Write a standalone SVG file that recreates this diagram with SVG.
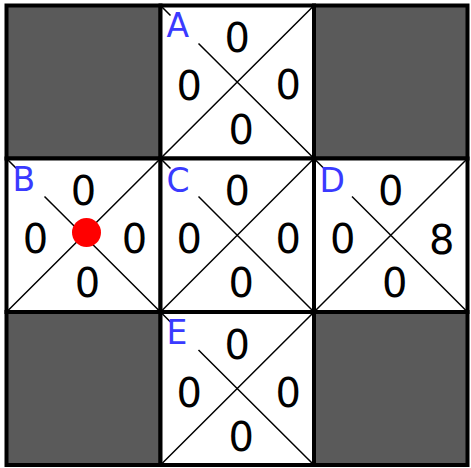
<svg xmlns="http://www.w3.org/2000/svg" width="471" height="468" viewBox="0 0 471 468">
<style>
.grey{fill:#5a5a5a;stroke:#000;stroke-width:4}
.white{fill:#fff;stroke:none}
.frame{fill:none;stroke:#000;stroke-width:4}
.diag{stroke:#000;stroke-width:1.5;fill:none}
.num{font-family:"DejaVu Sans",sans-serif;font-size:40px;fill:#000;text-anchor:middle}
.lab{font-family:"DejaVu Sans",sans-serif;font-size:33px;fill:#3a3aff}
</style>
<rect x="0" y="0" width="471" height="468" fill="#fff"/>
<g id="grey-cells">
<rect class="grey" x="6.5" y="5.5" width="154" height="153"/>
<rect class="grey" x="314" y="5.5" width="153.5" height="153"/>
<rect class="grey" x="6.5" y="312" width="154" height="153"/>
<rect class="grey" x="314" y="312" width="153.5" height="153"/>
</g>
<g id="A">
<rect class="white" x="160.5" y="5.5" width="153.5" height="153"/>
<path class="diag" d="M160.5,5.5L170.5,15.5M198.5,43.5L314,158.5M160.5,158.5L314,5.5"/>
<text class="lab" x="166.5" y="36.5">A</text>
<text class="num" x="237.25" y="52">0</text>
<text class="num" x="189.25" y="100">0</text>
<text class="num" x="288.25" y="99">0</text>
<text class="num" x="241.25" y="144">0</text>
<rect class="frame" x="160.5" y="5.5" width="153.5" height="153"/>
</g>
<g id="B">
<rect class="white" x="6.5" y="158.5" width="154" height="153.5"/>
<path class="diag" d="M6.5,158.5L16.5,168.5M44.5,196.5L160.5,312M6.5,312L160.5,158.5"/>
<text class="lab" x="12.5" y="191">B</text>
<text class="num" x="83.5" y="205.25">0</text>
<text class="num" x="35.5" y="253.25">0</text>
<text class="num" x="134.5" y="253.25">0</text>
<text class="num" x="87.5" y="297.25">0</text>
<circle cx="86.5" cy="232.5" r="14.5" fill="#ff0000"/>
<rect class="frame" x="6.5" y="158.5" width="154" height="153.5"/>
</g>
<g id="C">
<rect class="white" x="160.5" y="158.5" width="153.5" height="153.5"/>
<path class="diag" d="M160.5,158.5L170.5,168.5M198.5,196.5L314,312M160.5,312L314,158.5"/>
<text class="lab" x="166.5" y="191.5">C</text>
<text class="num" x="237.25" y="205.25">0</text>
<text class="num" x="189.25" y="253.25">0</text>
<text class="num" x="288.25" y="253.25">0</text>
<text class="num" x="241.25" y="297.25">0</text>
<rect class="frame" x="160.5" y="158.5" width="153.5" height="153.5"/>
</g>
<g id="D">
<rect class="white" x="314" y="158.5" width="153.5" height="153.5"/>
<path class="diag" d="M314,158.5L324,168.5M352,196.5L467.5,312M314,312L467.5,158.5"/>
<text class="lab" x="319.5" y="191.5">D</text>
<text class="num" x="390.75" y="205.25">0</text>
<text class="num" x="342.75" y="253.25">0</text>
<text class="num" x="441.75" y="253.75">8</text>
<text class="num" x="394.75" y="297.25">0</text>
<rect class="frame" x="314" y="158.5" width="153.5" height="153.5"/>
</g>
<g id="E">
<rect class="white" x="160.5" y="312" width="153.5" height="153"/>
<path class="diag" d="M160.5,312L170.5,322M198.5,350L314,465M160.5,465L314,312"/>
<text class="lab" x="166.5" y="343.5">E</text>
<text class="num" x="237.25" y="358.5">0</text>
<text class="num" x="189.25" y="406.5">0</text>
<text class="num" x="288.25" y="406.5">0</text>
<text class="num" x="241.25" y="450.5">0</text>
<rect class="frame" x="160.5" y="312" width="153.5" height="153"/>
</g>
</svg>
